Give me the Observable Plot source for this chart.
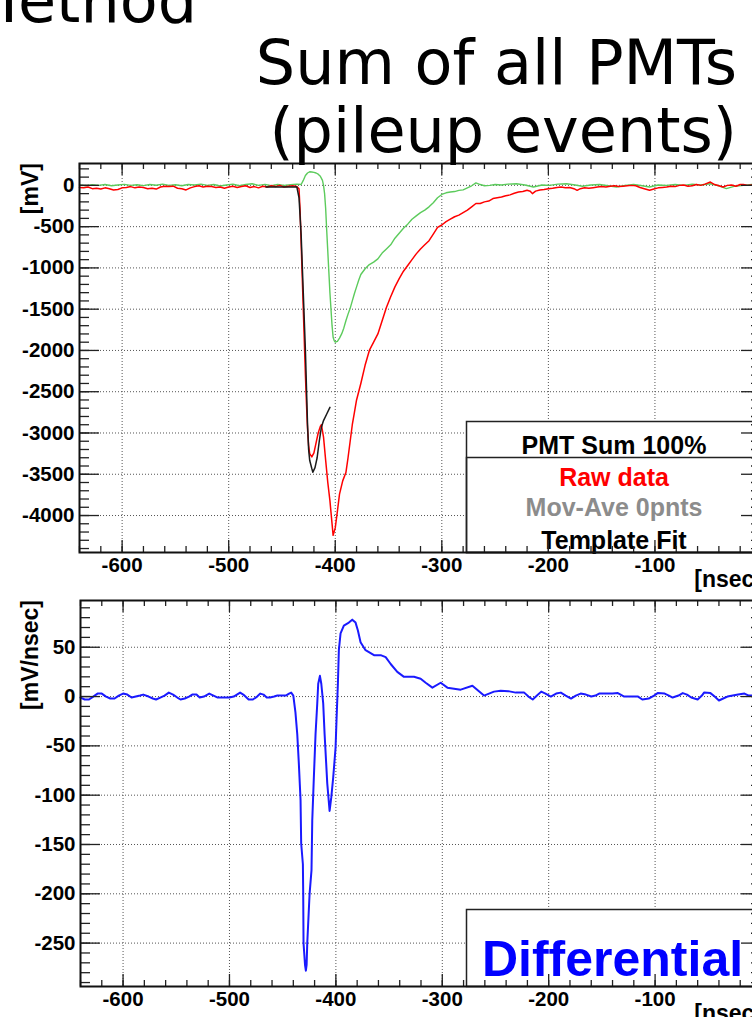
<!DOCTYPE html>
<html><head><meta charset="utf-8">
<script src="https://cdn.jsdelivr.net/npm/d3@7"></script>
<script src="https://cdn.jsdelivr.net/npm/@observablehq/plot@0.6"></script>
<style>
html,body{margin:0;padding:0;background:#fff;}
#page{position:relative;width:752px;height:1017px;overflow:hidden;background:#fff;}
#page svg{position:absolute;left:0;max-width:none;}
</style></head><body><div id="page"></div>
<script>
// ---------- DATA ----------
const xMajorTicks = [-600, -500, -400, -300, -200, -100, 0];
const xTickLabels = ["-600", "-500", "-400", "-300", "-200", "-100", "0"];
const topYTicks = [0, -500, -1000, -1500, -2000, -2500, -3000, -3500, -4000];
const topYLabels = ["0", "-500", "-1000", "-1500", "-2000", "-2500", "-3000", "-3500", "-4000"];
const bottomYTicks = [50, 0, -50, -100, -150, -200, -250];
const bottomYLabels = ["50", "0", "-50", "-100", "-150", "-200", "-250"];

const legendLabels = ["PMT Sum 100%", "Raw data", "Mov-Ave 0pnts", "Template Fit"];
const legendColors = ["#000000", "#ff0000", "#8c8c8c", "#000000"];
const diffLabel = "Differential";

// Raw data (red), [nsec, mV]
const rawData = [[-640,-25],[-636,-30],[-632,-20],[-628,-40],[-624,-35],[-620,-45],[-616,-30],[-612,-40],[-608,-55],[-604,-50],[-600,-30],[-596,-25],[-592,-15],[-588,-30],[-584,-20],[-580,-25],[-576,-40],[-572,-35],[-568,-45],[-564,-20],[-560,-10],[-556,-15],[-552,-10],[-548,-35],[-544,-40],[-540,-55],[-536,-30],[-532,-15],[-528,-5],[-524,-20],[-520,-10],[-516,-15],[-512,-25],[-508,-20],[-504,-35],[-500,-20],[-496,-10],[-492,-25],[-488,-15],[-484,-5],[-480,-25],[-476,-15],[-472,-30],[-468,-10],[-464,-20],[-460,-5],[-456,-15],[-452,0],[-448,-20],[-444,-10],[-440,-5],[-436,-15],[-434,-40],
[-433,-300],[-432,-700],[-431,-1100],[-430,-1500],[-429,-1900],[-428,-2300],[-427,-2650],[-426,-2950],[-425,-3150],[-424,-3250],[-422,-3290],[-420,-3240],[-418,-3120],[-416,-3000],[-414,-2920],[-413,-2900],[-411,-3050],[-409,-3330],[-407,-3600],[-405,-3820],[-403,-4100],[-402,-4240],[-400,-4150],[-398,-3950],[-396,-3740],[-393,-3580],[-390,-3480],[-388,-3300],[-386,-3100],[-384,-2900],[-382,-2750],[-380,-2600],[-376,-2400],[-372,-2180],[-368,-2000],[-364,-1900],[-360,-1800],[-356,-1640],[-352,-1480],[-348,-1350],[-344,-1230],[-340,-1130],[-336,-1040],[-332,-970],[-328,-900],[-324,-830],[-320,-770],[-316,-720],[-312,-670],[-308,-590],[-304,-510],[-300,-480],[-296,-440],[-292,-410],[-288,-380],[-284,-360],[-280,-330],[-276,-300],[-272,-260],[-268,-220],[-264,-220],[-260,-200],[-256,-190],[-252,-160],[-248,-150],
[-244,-140],[-240,-125],[-236,-115],[-232,-95],[-228,-80],[-224,-75],[-220,-60],[-217,-70],[-215,-100],[-212,-70],[-208,-55],[-204,-50],[-200,-40],[-196,-35],[-192,-25],[-188,-20],[-184,-30],[-180,-25],[-176,-40],[-173,-60],[-170,-40],[-166,-30],[-162,-35],[-158,-28],[-154,-20],[-150,-15],[-146,-20],[-142,-12],[-138,-5],[-134,-15],[-130,-10],[-126,-5],[-122,0],[-118,-5],[-114,-25],[-110,-40],[-105,-60],[-101,-45],[-97,-30],[-93,-25],[-89,-20],[-85,-10],[-81,-15],[-77,0],[-73,5],[-69,-10],[-65,-5],[-61,10],[-57,0],[-53,15],[-48,40],[-44,10],[-40,-5],[-36,-20],[-32,0],[-28,5],[-24,-10],[-20,10],[-17,12],[-13,0],[-9,5],[-5,-5],[0,0]];

// Green trace, [nsec, mV]
const greenTrace = [[-640,5],[-634,-5],[-628,8],[-622,0],[-616,10],[-610,-5],[-604,5],[-598,12],[-592,0],[-586,8],[-580,-3],[-574,10],[-568,2],[-562,15],[-556,0],[-550,8],[-544,-5],[-538,10],[-532,5],[-526,15],[-520,0],[-514,10],[-508,-8],[-502,5],[-496,15],[-490,-5],[-484,10],[-478,20],[-472,0],[-466,12],[-460,-5],[-454,10],[-448,0],[-442,8],[-436,15],[-432,10],[-430,60],[-428,120],[-426,150],[-424,165],[-422,162],[-420,158],[-418,150],[-416,135],[-414,110],[-412,60],[-411,0],[-410,-100],[-409,-280],[-408,-550],[-407,-800],[-406,-1050],[-405,-1300],[-404,-1500],[-403,-1700],[-402,-1840],[-401,-1880],[-400,-1900],[-398,-1890],[-396,-1850],[-394,-1800],[-392,-1730],[-390,-1640],[-388,-1560],[-386,-1490],[-384,-1400],[-382,-1310],[-380,-1230],[-378,-1150],[-376,-1080],[-372,-1010],[-368,-960],[-364,-930],[-360,-890],[-356,-820],[-352,-770],[-348,-720],[-344,-640],[-340,-580],[-336,-520],[-332,-470],[-328,-410],[-324,-370],[-320,-330],[-316,-300],[-312,-260],[-308,-210],[-304,-150],[-300,-110],[-296,-90],[-292,-80],[-288,-75],[-284,-60],[-280,-55],[-276,-30],[-272,-5],[-268,30],[-264,10],[-260,-5],[-255,0],[-250,10],[-244,5],[-238,15],[-230,20],[-222,5],[-214,-20],[-206,5],[-199,0],[-191,15],[-183,20],[-175,5],[-168,-10],[-160,5],[-152,10],[-144,-5],[-136,-20],[-128,0],[-120,10],[-112,-5],[-105,-20],[-97,5],[-89,0],[-81,10],[-73,0],[-65,15],[-57,5],[-48,20],[-40,-5],[-33,-40],[-25,-10],[-17,0],[-9,10],[0,5]];

// Template fit (black), [nsec, mV]
const templateFit = [[-465,-20],[-436,-20],[-434,-150],[-432,-600],[-430,-1300],[-428,-2000],[-426,-2900],[-425,-3200],[-424,-3330],[-422,-3430],[-421,-3475],[-419,-3420],[-417,-3300],[-415,-3100],[-413,-2930],[-411,-2850],[-408,-2770],[-405,-2690]];

// Differential (blue), [nsec, mV/nsec]
const diffData = [[-640,-1],[-636,-3],[-632,-3],[-628,0],[-624,3],[-620,3],[-616,0],[-612,-2],[-608,-2],[-604,1],[-600,3],[-596,2],[-592,-1],[-588,0],[-584,1],[-581,2],[-576,0],[-572,-2],[-569,-3],[-565,-1],[-561,1],[-557,4],[-553,2],[-549,-1],[-546,-3],[-542,-2],[-538,0],[-535,2],[-531,2],[-528,-1],[-524,0],[-519,3],[-515,1],[-511,-1],[-507,-1],[-503,-1],[-500,-1],[-496,0],[-493,2],[-490,4],[-487,2],[-484,-1],[-482,-3],[-478,-3],[-474,0],[-471,3],[-468,2],[-465,-1],[-462,-1],[-458,0],[-455,1],[-451,1],[-447,1],[-444,3],[-442,4],[-440,1],
[-438,-16],[-436.3,-38],[-434.8,-68],[-433.2,-105],[-432.6,-149],[-431,-170],[-430.7,-200],[-430.4,-250],[-429,-272],[-428.2,-278],[-427.5,-272],[-426.9,-250],[-424.7,-200],[-422.9,-176],[-422.2,-126],[-420.7,-82],[-419.1,-38],[-417.5,-7],[-416.6,13],[-415,21],[-413.7,13],[-411.9,-7],[-410.6,-38],[-408.1,-88],[-405.9,-116],[-404.3,-102],[-402.5,-82],[-400.3,-52],[-399.3,-21],[-398.1,13],[-397.2,47],[-395.6,64],[-392.5,72],[-387.8,75],[-384.6,78],[-381.5,75],[-379.3,67],[-376.8,55],[-372.1,47],[-364.2,42],[-357.9,42],[-353.2,40],[-348.5,33],[-342.3,25],[-336,20],[-326.6,20],[-320.3,18],[-315.6,14],[-309.3,9],[-301.5,14],[-295.2,9],[-282.7,7],[-271.7,11],[-260.8,1],[-251.4,5],[-245.1,6],
[-238,5.5],[-231,4],[-223,4],[-219,0],[-215,-3],[-211,1],[-207,5],[-203,3],[-198,0],[-193,3],[-188.6,4],[-184,1],[-179,-2],[-174.5,1],[-170,3],[-165,2],[-160,0],[-156,1],[-152.6,3],[-146,3],[-140,3],[-135,3.5],[-129,0],[-122,0],[-116,0],[-112,-3],[-106,-2],[-101,1],[-97.6,3.5],[-91,3],[-87,1],[-83.5,-1],[-78,1],[-74,3.5],[-70,2],[-66,-1],[-60,-3],[-56,1],[-54,4],[-48,3.5],[-44,0],[-40,-4],[-36,-2],[-32,0],[-27,1],[-22,2],[-16,3],[-12,1],[-8,1],[-4,1],[0,1]];

// ---------- DRAWING ----------
const page = document.getElementById("page");
const FONT = "'Liberation Sans', Arial, Helvetica, sans-serif";
const W = 780, MR = 19;
const xMinor = d3.range(-640, 1, 20);
// the "0" label sits on the cropped right edge and is not visible in the reference
const xLabelTicks = xMajorTicks.filter(d => d < 0);

function panel({top, height, mL, mT, mB, yDomain, yTicks, yLabels, yMinor, lineMarks, legendMarks}) {
  const fw = W - mL - MR, fh = height - mT - mB;
  const tk = {stroke: "#222", strokeWidth: 1.3};
  const grid = {stroke: "#555", strokeWidth: 1, strokeDasharray: "1,2"};
  const lab = {fontFamily: FONT, fontWeight: "bold", fontSize: 20.5, fill: "#000", lineAnchor: "middle"};
  const svg = Plot.plot({
    width: W, height, marginLeft: mL, marginRight: MR, marginTop: mT, marginBottom: mB,
    x: {domain: [-640, 0], axis: null},
    y: {domain: yDomain, axis: null},
    style: {background: "none", maxWidth: "none", overflow: "visible"},
    marks: [
      Plot.ruleX(xMajorTicks.filter(d => d > -640 && d < 0), grid),
      Plot.ruleY(yTicks, grid),
      ...lineMarks(fw, fh),
      ...legendMarks(fw, fh),
      Plot.ruleY(yMinor, {...tk, insetRight: fw - 10}),
      Plot.ruleY(yMinor, {...tk, insetLeft: fw - 10}),
      Plot.ruleY(yTicks, {...tk, insetRight: fw - 20}),
      Plot.ruleY(yTicks, {...tk, insetLeft: fw - 20}),
      Plot.ruleX(xMinor, {...tk, insetTop: fh - 6}),
      Plot.ruleX(xMinor, {...tk, insetBottom: fh - 6}),
      Plot.ruleX(xMajorTicks, {...tk, insetTop: fh - 12}),
      Plot.ruleX(xMajorTicks, {...tk, insetBottom: fh - 12}),
      Plot.frame({stroke: "#111", strokeWidth: 2}),
      Plot.text(yTicks, {...lab, y: d => d, text: (d, i) => yLabels[i], frameAnchor: "left", textAnchor: "end", dx: -5}),
      Plot.text(xLabelTicks, {...lab, x: d => d, text: (d, i) => xTickLabels[i], frameAnchor: "bottom", textAnchor: "middle", dy: 13})
    ]
  });
  svg.style.top = top + "px";
  page.appendChild(svg);
}

// Top panel: frame x 79..761, y 163..552
panel({
  top: 140, height: 460, mL: 79, mT: 23, mB: 48,
  yDomain: [-4448, 265], yTicks: topYTicks, yLabels: topYLabels,
  yMinor: d3.range(200, -4449, -100),
  lineMarks: () => [
    Plot.line(greenTrace, {stroke: "#5ccb5c", strokeWidth: 1.4}),
    Plot.line(rawData, {stroke: "#ff0000", strokeWidth: 1.5}),
    Plot.line(templateFit, {stroke: "#1a1a1a", strokeWidth: 1.5})
  ],
  legendMarks: () => {
    const boxL = 466 - 79, ox = 613.5 - 79, fs = 25;
    const baselines = [453, 485, 515, 548];
    return [
      Plot.frame({fill: "white", stroke: "#222", strokeWidth: 1.5, insetLeft: boxL, insetTop: 421 - 163}),
      Plot.frame({fill: "none", stroke: "#222", strokeWidth: 1.5, insetLeft: boxL, insetTop: 457 - 163}),
      ...legendLabels.map((t, i) => Plot.text([t], {
        text: d => d, frameAnchor: "top-left", dx: ox, dy: baselines[i] - 163 - 0.32 * fs,
        textAnchor: "middle", lineAnchor: "middle", fontFamily: FONT, fontWeight: "bold", fontSize: fs, fill: legendColors[i]
      }))
    ];
  }
});

// Bottom panel: frame x 80..761, y 600..986
panel({
  top: 580, height: 437, mL: 80, mT: 20, mB: 31,
  yDomain: [-294, 97.4], yTicks: bottomYTicks, yLabels: bottomYLabels,
  yMinor: d3.range(90, -295, -10),
  lineMarks: () => [
    Plot.line(diffData, {stroke: "#1a1aff", strokeWidth: 2})
  ],
  legendMarks: () => [
    Plot.frame({fill: "white", stroke: "#222", strokeWidth: 1.5, insetLeft: 466 - 80, insetTop: 909 - 600}),
    Plot.text([diffLabel], {
      text: d => d, frameAnchor: "top-left", dx: 612 - 80, dy: 975 - 600 - 0.32 * 50,
      textAnchor: "middle", lineAnchor: "middle", fontFamily: FONT, fontWeight: "bold", fontSize: 50, fill: "#0000ff"
    })
  ]
});

// Overlay: slide titles and axis titles
const ov = d3.select(page).append("svg")
  .attr("width", 752).attr("height", 1017).style("top", "0px").style("pointer-events", "none");
const titleStyle = t => t.attr("font-family", "'DejaVu Sans', sans-serif").attr("font-size", 62).attr("fill", "#000").attr("text-anchor", "end");
ov.append("text").attr("x", 197).attr("y", 22).text("Method").call(titleStyle);
ov.append("text").attr("x", 737).attr("y", 84).text("Sum of all PMTs").call(titleStyle);
ov.append("text").attr("x", 737).attr("y", 152).text("(pileup events)").call(titleStyle);
const axStyle = t => t.attr("font-family", FONT).attr("font-weight", "bold").attr("font-size", 23).attr("fill", "#000").attr("text-anchor", "end");
ov.append("text").attr("transform", "translate(38,163) rotate(-90)").text("[mV]").call(axStyle);
ov.append("text").attr("transform", "translate(38,600) rotate(-90)").text("[mV/nsec]").call(axStyle);
ov.append("text").attr("x", 762).attr("y", 587).text("[nsec]").call(axStyle);
ov.append("text").attr("x", 762).attr("y", 1021).text("[nsec]").call(axStyle);
</script></body></html>
